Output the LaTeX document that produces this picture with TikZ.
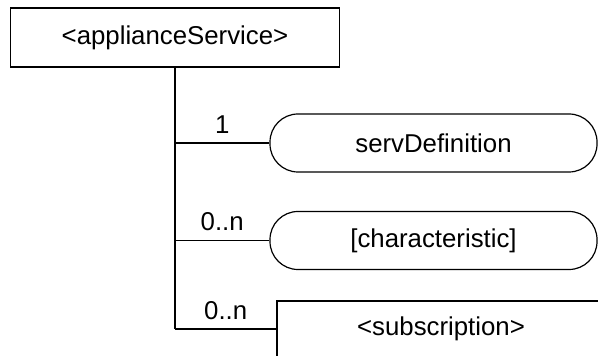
\documentclass[tikz,border=0pt]{standalone}
\usepackage{fontspec}
\setmainfont{Liberation Sans}
\usepackage{tikz}
\tikzset{
	boxstyle/.style={rectangle,draw=black,fill=white,line width=0.6pt,inner sep=0pt},
	pillstyle/.style={rectangle,rounded corners=14pt,draw=black,fill=white,line width=0.6pt,inner sep=0pt,minimum width=163.5pt,minimum height=29pt},
	labelstyle/.style={rectangle,inner sep=0pt,above=4.5pt}
}
\begin{document}
\begin{tikzpicture}[x=0.5pt,y=-0.5pt]
	\fontsize{12.9}{16}\selectfont
	\useasboundingbox (0,0) rectangle (598,356);
	\node[boxstyle,minimum width=164.5pt,minimum height=29.5pt] (srv) at (175,37.5) {<applianceService>};
	\node[pillstyle] (def) at (433.5,143) {servDefinition};
	\node[pillstyle] (chr) at (433.5,240.5) {[characteristic]};
	\node[boxstyle,minimum width=164pt,minimum height=28pt] (sub) at (441,329) {<subscription>};
	\draw[line width=0.6pt] (srv.south) -- (srv.south |- sub.west);
	\draw[line width=0.6pt] (srv.south |- def.west) -- node[labelstyle] {1} (def.west);
	\draw[line width=0.6pt] (srv.south |- chr.west) -- node[labelstyle] {0..n} (chr.west);
	\draw[line width=0.6pt] (srv.south |- sub.west) -- node[labelstyle] {0..n} (sub.west);
\end{tikzpicture}
\end{document}
